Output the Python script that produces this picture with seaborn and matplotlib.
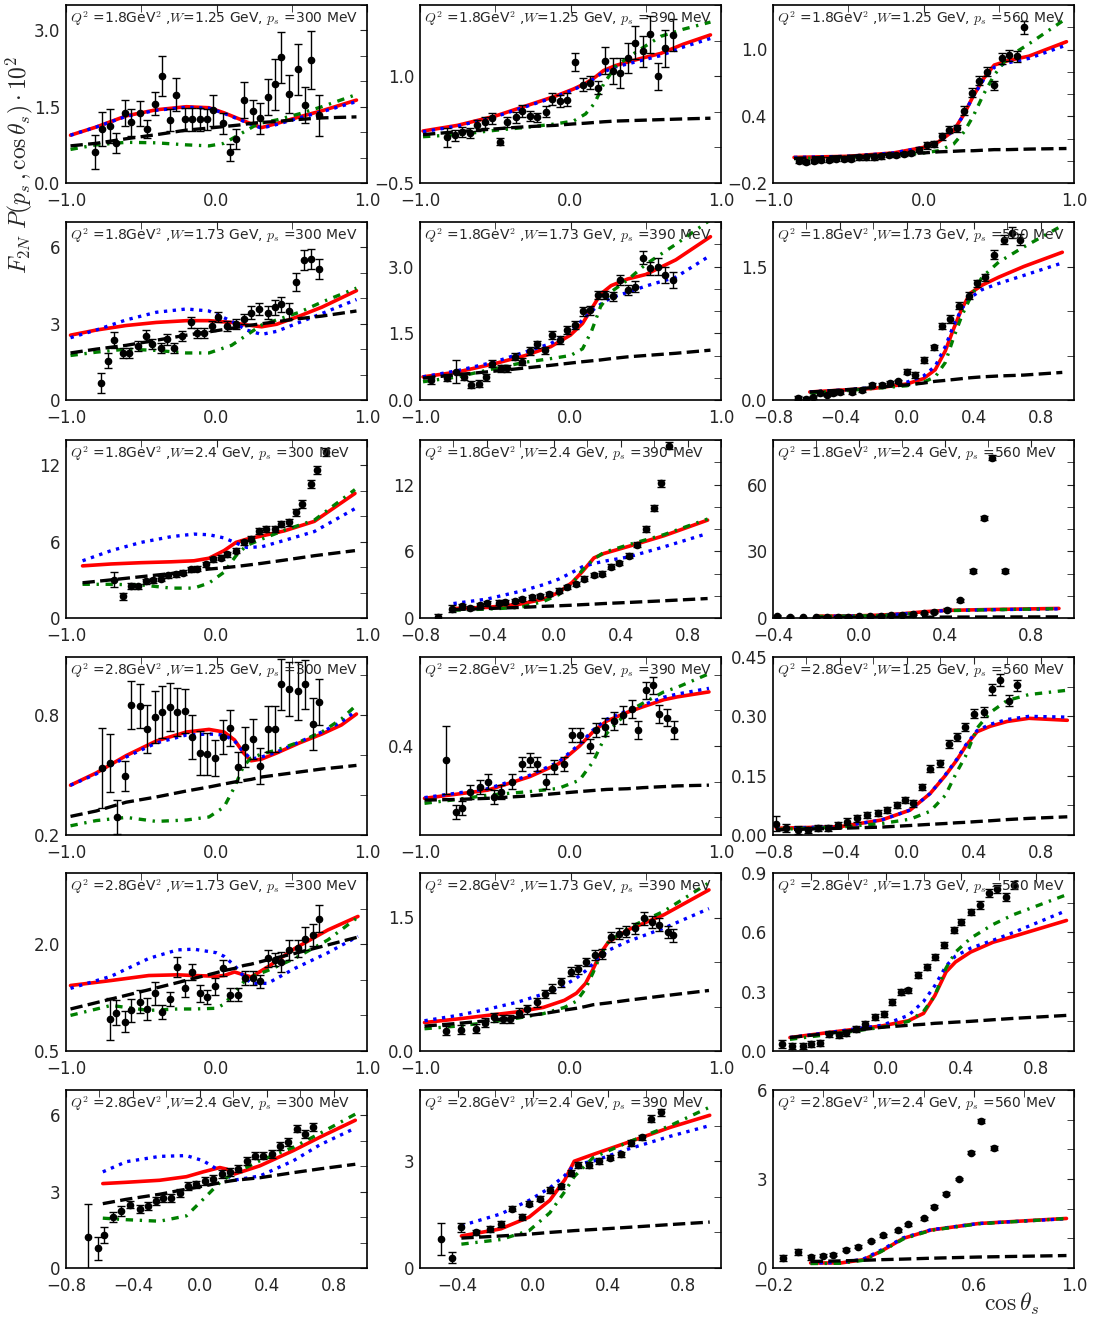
import matplotlib
matplotlib.use("Agg")
import matplotlib.pyplot as plt
import seaborn as sns
from matplotlib.ticker import MultipleLocator

# ---------------- data: row 1 (Q2=1.8, W=1.25) ----------------
p11_x = [-0.81, -0.76, -0.71, -0.67, -0.61, -0.57, -0.51, -0.46, -0.41, -0.36, -0.31, -0.27, -0.21, -0.16, -0.11, -0.06,
         -0.02, 0.04, 0.09, 0.13, 0.18, 0.24, 0.29, 0.34, 0.39, 0.43, 0.48, 0.54, 0.59, 0.63, 0.68]
p11_y = [0.61, 1.06, 1.12, 0.79, 1.38, 1.19, 1.37, 1.06, 1.56, 2.10, 1.24, 1.74, 1.25, 1.25, 1.25, 1.25,
         1.43, 1.17, 0.60, 0.86, 1.63, 1.41, 1.27, 1.69, 1.94, 2.47, 1.75, 2.24, 1.53, 2.42, 1.33]
p11_e = [0.34, 0.33, 0.34, 0.20, 0.26, 0.26, 0.25, 0.18, 0.23, 0.39, 0.21, 0.32, 0.22, 0.23, 0.22, 0.21,
         0.31, 0.20, 0.16, 0.20, 0.35, 0.23, 0.31, 0.36, 0.50, 0.50, 0.37, 0.50, 0.35, 0.57, 0.40]
p11_cx = [-0.97, -0.8, -0.6, -0.4, -0.2, -0.05, 0.05, 0.15, 0.25, 0.3, 0.4, 0.55, 0.7, 0.93]
p11_red = [0.94, 1.10, 1.32, 1.44, 1.50, 1.48, 1.38, 1.26, 1.14, 1.09, 1.17, 1.30, 1.42, 1.63]
p11_blue = [0.94, 1.10, 1.31, 1.43, 1.49, 1.47, 1.37, 1.25, 1.13, 1.08, 1.15, 1.28, 1.40, 1.60]
p11_green = [0.66, 0.75, 0.80, 0.79, 0.75, 0.73, 0.78, 0.95, 1.12, 1.18, 1.24, 1.36, 1.50, 1.74]
p11_black = [0.73, 0.78, 0.87, 0.95, 1.04, 1.08, 1.11, 1.14, 1.18, 1.19, 1.21, 1.25, 1.28, 1.30]

p12_x = [-0.82, -0.77, -0.72, -0.67, -0.62, -0.57, -0.52, -0.47, -0.42, -0.36, -0.32, -0.27, -0.22, -0.16, -0.12, -0.07,
         -0.02, 0.03, 0.08, 0.13, 0.18, 0.23, 0.28, 0.33, 0.38, 0.43, 0.48, 0.53, 0.58, 0.63, 0.68]
p12_y = [0.14, 0.17, 0.21, 0.20, 0.31, 0.35, 0.41, 0.08, 0.35, 0.42, 0.51, 0.44, 0.42, 0.50, 0.68, 0.65,
         0.67, 1.20, 0.88, 0.91, 0.84, 1.22, 1.07, 1.05, 1.26, 1.47, 1.35, 1.59, 1.00, 1.39, 1.58]
p12_e = [0.13, 0.08, 0.07, 0.07, 0.08, 0.08, 0.08, 0.05, 0.07, 0.08, 0.08, 0.07, 0.07, 0.08, 0.09, 0.08,
         0.09, 0.12, 0.09, 0.09, 0.09, 0.19, 0.18, 0.21, 0.21, 0.23, 0.22, 0.26, 0.19, 0.26, 0.23]
p12_cx = [-0.98, -0.75, -0.5, -0.3, -0.1, 0.02, 0.1, 0.16, 0.22, 0.3, 0.45, 0.6, 0.75, 0.93]
p12_red = [0.23, 0.31, 0.44, 0.58, 0.72, 0.82, 0.90, 0.98, 1.08, 1.15, 1.24, 1.32, 1.45, 1.58]
p12_blue = [0.22, 0.30, 0.43, 0.57, 0.71, 0.81, 0.89, 0.97, 1.06, 1.13, 1.21, 1.29, 1.41, 1.53]
p12_green = [0.15, 0.18, 0.24, 0.28, 0.33, 0.37, 0.47, 0.62, 0.89, 1.14, 1.36, 1.56, 1.66, 1.76]
p12_black = [0.18, 0.22, 0.26, 0.29, 0.31, 0.33, 0.34, 0.35, 0.36, 0.37, 0.38, 0.39, 0.40, 0.41]

p13_x = [-0.83, -0.78, -0.73, -0.68, -0.63, -0.58, -0.53, -0.48, -0.43, -0.38, -0.33, -0.28, -0.23, -0.18, -0.13, -0.08,
         -0.03, 0.02, 0.07, 0.12, 0.17, 0.22, 0.27, 0.32, 0.37, 0.42, 0.47, 0.52, 0.57, 0.62, 0.67]
p13_y = [0.00, -0.01, 0.00, 0.01, 0.01, 0.02, 0.02, 0.02, 0.03, 0.03, 0.03, 0.04, 0.05, 0.05, 0.06, 0.07,
         0.10, 0.14, 0.15, 0.22, 0.28, 0.29, 0.45, 0.61, 0.72, 0.80, 0.68, 0.92, 0.95, 0.94, 1.20]
p13_e = [0.02, 0.02, 0.02, 0.02, 0.02, 0.02, 0.02, 0.02, 0.02, 0.02, 0.02, 0.02, 0.02, 0.02, 0.02, 0.02,
         0.02, 0.03, 0.03, 0.03, 0.03, 0.03, 0.04, 0.04, 0.04, 0.04, 0.04, 0.05, 0.05, 0.05, 0.06]
p13_cx = [-0.86, -0.5, -0.2, 0.0, 0.1, 0.2, 0.27, 0.33, 0.4, 0.47, 0.56, 0.7, 0.95]
p13_red = [0.03, 0.04, 0.07, 0.12, 0.17, 0.27, 0.42, 0.58, 0.74, 0.86, 0.90, 0.94, 1.07]
p13_blue = [0.03, 0.04, 0.07, 0.12, 0.17, 0.27, 0.42, 0.58, 0.73, 0.84, 0.88, 0.92, 1.04]
p13_green = [0.02, 0.03, 0.05, 0.07, 0.09, 0.15, 0.26, 0.40, 0.60, 0.77, 0.93, 1.05, 1.28]
p13_black = [0.02, 0.04, 0.06, 0.07, 0.08, 0.085, 0.09, 0.09, 0.095, 0.10, 0.10, 0.105, 0.11]

# ---------------- row 2 (Q2=1.8, W=1.73) ----------------
p21_x = [-0.77, -0.72, -0.68, -0.62, -0.58, -0.52, -0.47, -0.43, -0.37, -0.33, -0.28, -0.23, -0.17, -0.13, -0.08,
         -0.03, 0.01, 0.07, 0.13, 0.18, 0.23, 0.28, 0.34, 0.39, 0.43, 0.48, 0.53, 0.58, 0.63, 0.68]
p21_y = [0.67, 1.55, 2.36, 1.85, 1.85, 2.12, 2.52, 2.19, 2.05, 2.38, 2.05, 2.52, 3.05, 2.62, 2.65,
         2.91, 3.25, 2.91, 2.98, 3.18, 3.44, 3.58, 3.44, 3.64, 3.77, 3.50, 4.65, 5.50, 5.55, 5.15]
p21_e = [0.40, 0.30, 0.30, 0.20, 0.20, 0.20, 0.25, 0.20, 0.20, 0.20, 0.20, 0.20, 0.20, 0.20, 0.20,
         0.20, 0.20, 0.20, 0.20, 0.20, 0.25, 0.25, 0.25, 0.30, 0.30, 0.30, 0.35, 0.40, 0.40, 0.40]
p21_cx = [-0.97, -0.8, -0.6, -0.4, -0.2, -0.05, 0.1, 0.2, 0.3, 0.4, 0.55, 0.7, 0.93]
p21_red = [2.55, 2.75, 2.93, 3.05, 3.12, 3.12, 3.05, 2.95, 2.88, 2.98, 3.30, 3.65, 4.30]
p21_blue = [2.45, 2.75, 3.15, 3.45, 3.58, 3.50, 3.10, 2.75, 2.58, 2.70, 3.05, 3.40, 3.95]
p21_green = [1.75, 1.88, 2.00, 1.95, 1.85, 1.85, 2.15, 2.55, 2.95, 3.15, 3.45, 3.85, 4.40]
p21_black = [1.85, 2.00, 2.15, 2.35, 2.55, 2.68, 2.82, 2.92, 3.00, 3.08, 3.20, 3.30, 3.50]

p22_x = [-0.93, -0.82, -0.76, -0.71, -0.66, -0.61, -0.56, -0.52, -0.46, -0.42, -0.37, -0.32, -0.27, -0.22, -0.17, -0.12,
         -0.07, -0.02, 0.03, 0.08, 0.13, 0.18, 0.23, 0.28, 0.33, 0.38, 0.43, 0.48, 0.53, 0.58, 0.63, 0.68]
p22_y = [0.45, 0.50, 0.64, 0.52, 0.34, 0.37, 0.51, 0.82, 0.71, 0.71, 0.97, 0.86, 1.10, 1.25, 1.12, 1.45,
         1.35, 1.57, 1.69, 1.99, 2.02, 2.36, 2.36, 2.33, 2.70, 2.47, 2.55, 3.20, 2.96, 3.00, 2.81, 2.70]
p22_e = [0.08, 0.08, 0.25, 0.08, 0.08, 0.08, 0.08, 0.08, 0.08, 0.08, 0.08, 0.08, 0.08, 0.08, 0.08, 0.09,
         0.09, 0.09, 0.09, 0.10, 0.10, 0.10, 0.10, 0.10, 0.12, 0.12, 0.12, 0.15, 0.15, 0.18, 0.18, 0.18]
p22_cx = [-0.98, -0.75, -0.5, -0.3, -0.13, 0.0, 0.08, 0.14, 0.2, 0.27, 0.38, 0.5, 0.7, 0.93]
p22_red = [0.52, 0.63, 0.82, 1.00, 1.20, 1.46, 1.72, 2.05, 2.38, 2.57, 2.72, 2.82, 3.15, 3.67]
p22_blue = [0.52, 0.66, 0.86, 1.08, 1.27, 1.54, 1.80, 2.00, 2.15, 2.30, 2.42, 2.56, 2.76, 3.25]
p22_green = [0.41, 0.52, 0.71, 0.85, 0.93, 1.00, 1.15, 1.55, 2.10, 2.43, 2.70, 3.05, 3.50, 4.05]
p22_black = [0.49, 0.57, 0.65, 0.72, 0.78, 0.83, 0.86, 0.88, 0.90, 0.93, 0.97, 1.00, 1.05, 1.12]

p23_x = [-0.65, -0.60, -0.56, -0.52, -0.48, -0.44, -0.40, -0.33, -0.27, -0.21, -0.15, -0.10, -0.05, 0.00,
         0.05, 0.10, 0.16, 0.21, 0.26, 0.31, 0.37, 0.42, 0.47, 0.52, 0.58, 0.63, 0.68]
p23_y = [0.02, 0.01, 0.03, 0.08, 0.06, 0.08, 0.09, 0.09, 0.11, 0.17, 0.17, 0.19, 0.21, 0.32,
         0.28, 0.45, 0.59, 0.83, 0.91, 1.06, 1.17, 1.31, 1.38, 1.63, 1.80, 1.88, 1.80]
p23_e = [0.02, 0.02, 0.02, 0.02, 0.02, 0.02, 0.02, 0.02, 0.02, 0.02, 0.02, 0.02, 0.02, 0.03,
         0.03, 0.03, 0.03, 0.03, 0.04, 0.04, 0.04, 0.04, 0.04, 0.05, 0.05, 0.06, 0.06]
p23_cx = [-0.58, -0.4, -0.2, 0.0, 0.1, 0.17, 0.23, 0.28, 0.33, 0.38, 0.45, 0.55, 0.7, 0.93]
p23_red = [0.09, 0.11, 0.13, 0.18, 0.24, 0.34, 0.55, 0.80, 1.03, 1.20, 1.29, 1.38, 1.50, 1.66]
p23_blue = [0.09, 0.11, 0.14, 0.20, 0.27, 0.38, 0.60, 0.84, 1.03, 1.15, 1.24, 1.31, 1.40, 1.54]
p23_green = [0.08, 0.10, 0.13, 0.16, 0.20, 0.26, 0.42, 0.70, 0.95, 1.15, 1.38, 1.55, 1.72, 1.96]
p23_black = [0.09, 0.11, 0.14, 0.17, 0.19, 0.21, 0.22, 0.23, 0.24, 0.25, 0.26, 0.27, 0.28, 0.31]

# ---------------- row 3 (Q2=1.8, W=2.4) ----------------
p31_x = [-0.68, -0.62, -0.57, -0.52, -0.47, -0.42, -0.37, -0.32, -0.27, -0.22, -0.17, -0.13, -0.07, -0.02, 0.03,
         0.07, 0.13, 0.18, 0.23, 0.28, 0.33, 0.39, 0.43, 0.48, 0.53, 0.57, 0.63, 0.67, 0.73]
p31_y = [3.00, 1.70, 2.50, 2.50, 2.90, 2.98, 3.08, 3.35, 3.43, 3.56, 3.83, 3.88, 4.22, 4.62, 4.75,
         5.01, 5.28, 5.94, 6.25, 6.86, 6.99, 6.99, 7.39, 7.52, 8.31, 8.97, 10.55, 11.66, 13.06]
p31_e = [0.60, 0.30, 0.25, 0.20, 0.20, 0.20, 0.20, 0.20, 0.20, 0.20, 0.20, 0.20, 0.20, 0.20, 0.20,
         0.20, 0.20, 0.20, 0.20, 0.25, 0.25, 0.25, 0.25, 0.25, 0.25, 0.30, 0.30, 0.30, 0.30]
p31_cx = [-0.89, -0.7, -0.5, -0.3, -0.15, -0.05, 0.05, 0.13, 0.2, 0.3, 0.45, 0.65, 0.92]
p31_red = [4.10, 4.25, 4.35, 4.42, 4.50, 4.70, 5.30, 5.95, 6.20, 6.45, 6.85, 7.60, 9.80]
p31_blue = [4.50, 5.30, 5.95, 6.40, 6.60, 6.55, 6.30, 5.90, 5.55, 5.60, 6.10, 6.80, 8.60]
p31_green = [2.65, 2.65, 2.60, 2.35, 2.35, 2.75, 3.60, 4.90, 5.70, 6.20, 6.90, 7.70, 10.10]
p31_black = [2.77, 3.00, 3.25, 3.50, 3.70, 3.85, 3.95, 4.05, 4.15, 4.30, 4.55, 4.90, 5.30]

p32_x = [-0.69, -0.61, -0.55, -0.50, -0.44, -0.40, -0.33, -0.29, -0.23, -0.19, -0.13, -0.08, -0.03, 0.03,
         0.08, 0.13, 0.18, 0.24, 0.29, 0.34, 0.39, 0.45, 0.50, 0.55, 0.60, 0.64, 0.69]
p32_y = [0.10, 0.83, 1.08, 0.92, 1.14, 1.32, 1.38, 1.45, 1.54, 1.69, 1.85, 2.00, 2.15, 2.46,
         2.77, 3.08, 3.54, 3.85, 4.00, 4.62, 4.92, 5.60, 6.60, 8.00, 9.90, 12.10, 15.50]
p32_e = [0.30, 0.30, 0.20, 0.20, 0.20, 0.20, 0.20, 0.20, 0.20, 0.20, 0.20, 0.20, 0.20, 0.20,
         0.20, 0.20, 0.20, 0.20, 0.20, 0.20, 0.20, 0.25, 0.25, 0.25, 0.25, 0.30, 0.30]
p32_cx = [-0.6, -0.4, -0.2, -0.06, 0.03, 0.11, 0.17, 0.24, 0.3, 0.45, 0.66, 0.92]
p32_red = [0.85, 0.95, 1.25, 1.70, 2.30, 3.20, 4.15, 5.40, 5.80, 6.45, 7.40, 8.80]
p32_blue = [1.30, 1.70, 2.40, 3.00, 3.50, 4.10, 4.60, 4.90, 5.10, 5.50, 6.40, 7.60]
p32_green = [0.70, 0.80, 0.95, 1.50, 2.10, 3.10, 4.30, 5.30, 5.90, 6.60, 7.50, 8.90]
p32_black = [0.75, 0.85, 0.95, 1.05, 1.10, 1.15, 1.20, 1.25, 1.30, 1.40, 1.55, 1.75]

p33_x = [-0.38, -0.32, -0.26, -0.20, -0.15, -0.10, -0.05, 0.00, 0.05, 0.10, 0.15, 0.20, 0.25, 0.30, 0.35,
         0.41, 0.47, 0.53, 0.58, 0.62, 0.68]
p33_y = [1.0, 0.5, 0.3, 0.3, 0.4, 0.6, 0.5, 0.8, 0.9, 1.0, 1.3, 1.5, 1.8, 2.2, 2.6,
         3.8, 8.0, 21.0, 45.0, 72.0, 21.0]
p33_e = [0.3, 0.3, 0.3, 0.3, 0.3, 0.3, 0.3, 0.3, 0.3, 0.3, 0.3, 0.3, 0.3, 0.3, 0.4,
         0.5, 0.6, 0.8, 1.0, 1.2, 0.8]
p33_cx = [-0.2, 0.0, 0.1, 0.2, 0.3, 0.4, 0.6, 0.93]
p33_red = [0.8, 1.0, 1.3, 1.9, 2.8, 3.4, 3.8, 4.3]
p33_blue = [0.7, 0.9, 1.2, 1.8, 2.7, 3.3, 3.7, 4.1]
p33_green = [0.7, 0.9, 1.1, 1.6, 2.6, 3.3, 3.7, 4.2]
p33_black = [0.2, 0.25, 0.3, 0.3, 0.35, 0.4, 0.45, 0.5]

# ---------------- row 4 (Q2=2.8, W=1.25) ----------------
p41_x = [-0.76, -0.71, -0.66, -0.61, -0.57, -0.51, -0.46, -0.41, -0.36, -0.31, -0.26, -0.21, -0.16, -0.11, -0.06,
         -0.01, 0.04, 0.09, 0.14, 0.19, 0.24, 0.29, 0.34, 0.39, 0.43, 0.48, 0.54, 0.59, 0.64, 0.68]
p41_y = [0.534, 0.559, 0.290, 0.495, 0.850, 0.847, 0.732, 0.790, 0.817, 0.839, 0.817, 0.818, 0.690, 0.610, 0.607,
         0.585, 0.690, 0.737, 0.542, 0.640, 0.678, 0.546, 0.729, 0.729, 0.953, 0.929, 0.919, 0.953, 0.754, 0.864]
p41_e = [0.200, 0.144, 0.085, 0.075, 0.120, 0.110, 0.120, 0.130, 0.130, 0.120, 0.120, 0.110, 0.110, 0.110, 0.105,
         0.090, 0.085, 0.090, 0.075, 0.100, 0.100, 0.090, 0.115, 0.115, 0.127, 0.134, 0.144, 0.123, 0.130, 0.115]
p41_cx = [-0.97, -0.8, -0.6, -0.4, -0.2, -0.05, 0.05, 0.12, 0.18, 0.23, 0.3, 0.4, 0.55, 0.7, 0.83, 0.93]
p41_red = [0.449, 0.510, 0.597, 0.670, 0.715, 0.728, 0.715, 0.675, 0.610, 0.571, 0.580, 0.610, 0.660, 0.705, 0.750, 0.805]
p41_blue = [0.449, 0.505, 0.590, 0.660, 0.700, 0.705, 0.700, 0.670, 0.615, 0.580, 0.590, 0.615, 0.665, 0.715, 0.765, 0.822]
p41_green = [0.246, 0.272, 0.288, 0.268, 0.275, 0.290, 0.340, 0.440, 0.545, 0.585, 0.605, 0.625, 0.665, 0.715, 0.780, 0.850]
p41_black = [0.293, 0.320, 0.364, 0.390, 0.420, 0.440, 0.455, 0.465, 0.472, 0.478, 0.490, 0.500, 0.515, 0.530, 0.540, 0.548]

p42_x = [-0.83, -0.76, -0.72, -0.67, -0.60, -0.55, -0.51, -0.46, -0.39, -0.32, -0.27, -0.22, -0.16, -0.11,
         -0.04, 0.01, 0.06, 0.13, 0.17, 0.23, 0.29, 0.35, 0.41, 0.45, 0.50, 0.55, 0.59, 0.64, 0.69]
p42_y = [0.360, 0.215, 0.225, 0.270, 0.285, 0.300, 0.257, 0.270, 0.300, 0.350, 0.360, 0.350, 0.300, 0.340,
         0.350, 0.430, 0.430, 0.400, 0.444, 0.454, 0.470, 0.486, 0.505, 0.444, 0.556, 0.570, 0.490, 0.480, 0.444]
p42_e = [0.095, 0.020, 0.020, 0.020, 0.020, 0.020, 0.020, 0.020, 0.020, 0.020, 0.020, 0.020, 0.020, 0.020,
         0.020, 0.020, 0.020, 0.020, 0.020, 0.025, 0.025, 0.025, 0.025, 0.025, 0.025, 0.025, 0.025, 0.025, 0.025]
p42_cx = [-0.97, -0.75, -0.55, -0.27, -0.08, 0.06, 0.15, 0.24, 0.38, 0.48, 0.62, 0.71, 0.92]
p42_red = [0.253, 0.265, 0.276, 0.314, 0.350, 0.400, 0.440, 0.470, 0.495, 0.510, 0.530, 0.538, 0.552]
p42_blue = [0.255, 0.268, 0.280, 0.318, 0.355, 0.405, 0.445, 0.475, 0.500, 0.515, 0.537, 0.546, 0.562]
p42_green = [0.239, 0.250, 0.262, 0.272, 0.281, 0.304, 0.356, 0.435, 0.496, 0.520, 0.552, 0.565, 0.603]
p42_black = [0.248, 0.250, 0.253, 0.260, 0.267, 0.272, 0.275, 0.278, 0.280, 0.283, 0.286, 0.288, 0.290]

p43_x = [-0.78, -0.72, -0.65, -0.59, -0.53, -0.47, -0.41, -0.36, -0.30, -0.24, -0.17, -0.12, -0.06, -0.01,
         0.04, 0.09, 0.14, 0.20, 0.25, 0.30, 0.35, 0.40, 0.46, 0.51, 0.56, 0.61, 0.66]
p43_y = [0.029, 0.017, 0.013, 0.013, 0.017, 0.017, 0.025, 0.034, 0.042, 0.050, 0.055, 0.063, 0.076, 0.088,
         0.080, 0.122, 0.168, 0.181, 0.231, 0.248, 0.273, 0.307, 0.311, 0.368, 0.391, 0.340, 0.378]
p43_e = [0.020, 0.010, 0.010, 0.008, 0.008, 0.008, 0.008, 0.008, 0.008, 0.008, 0.008, 0.008, 0.008, 0.008,
         0.008, 0.008, 0.008, 0.008, 0.010, 0.010, 0.010, 0.012, 0.012, 0.015, 0.015, 0.015, 0.015]
p43_cx = [-0.78, -0.4, -0.15, 0.02, 0.14, 0.23, 0.3, 0.35, 0.42, 0.5, 0.6, 0.73, 0.96]
p43_red = [0.017, 0.021, 0.038, 0.063, 0.105, 0.150, 0.190, 0.223, 0.261, 0.275, 0.287, 0.295, 0.290]
p43_blue = [0.017, 0.021, 0.038, 0.063, 0.105, 0.152, 0.192, 0.226, 0.264, 0.280, 0.292, 0.300, 0.298]
p43_green = [0.014, 0.020, 0.029, 0.040, 0.060, 0.100, 0.160, 0.198, 0.270, 0.310, 0.340, 0.355, 0.366]
p43_black = [0.013, 0.017, 0.020, 0.024, 0.027, 0.029, 0.031, 0.032, 0.034, 0.036, 0.039, 0.042, 0.046]

# ---------------- row 5 (Q2=2.8, W=1.73) ----------------
p51_x = [-0.71, -0.67, -0.61, -0.57, -0.51, -0.46, -0.41, -0.36, -0.31, -0.26, -0.21, -0.16, -0.11, -0.06, -0.01,
         0.04, 0.09, 0.14, 0.19, 0.24, 0.29, 0.34, 0.39, 0.43, 0.48, 0.54, 0.59, 0.64, 0.68]
p51_y = [0.95, 1.04, 0.91, 1.07, 1.19, 1.09, 1.31, 1.05, 1.23, 1.68, 1.38, 1.61, 1.31, 1.26, 1.41,
         1.67, 1.29, 1.29, 1.53, 1.53, 1.48, 1.80, 1.78, 1.75, 1.92, 1.94, 2.08, 2.13, 2.36]
p51_e = [0.29, 0.17, 0.15, 0.16, 0.16, 0.16, 0.16, 0.10, 0.10, 0.14, 0.12, 0.11, 0.12, 0.10, 0.12,
         0.11, 0.09, 0.09, 0.10, 0.10, 0.09, 0.12, 0.09, 0.14, 0.14, 0.12, 0.16, 0.15, 0.19]
p51_cx = [-0.97, -0.7, -0.45, -0.26, -0.15, 0.0, 0.05, 0.12, 0.18, 0.23, 0.34, 0.52, 0.74, 0.94]
p51_red = [1.42, 1.49, 1.56, 1.57, 1.56, 1.55, 1.56, 1.61, 1.57, 1.54, 1.68, 1.94, 2.20, 2.39]
p51_blue = [1.38, 1.55, 1.80, 1.92, 1.93, 1.88, 1.83, 1.70, 1.55, 1.45, 1.45, 1.66, 1.88, 2.11]
p51_green = [1.00, 1.14, 1.07, 1.09, 1.09, 1.10, 1.16, 1.32, 1.47, 1.54, 1.63, 1.80, 2.06, 2.38]
p51_black = [1.09, 1.23, 1.36, 1.46, 1.52, 1.60, 1.63, 1.66, 1.70, 1.72, 1.78, 1.87, 1.99, 2.10]

p52_x = [-0.83, -0.73, -0.63, -0.57, -0.51, -0.45, -0.40, -0.34, -0.29, -0.22, -0.17, -0.12, -0.06, 0.00,
         0.05, 0.10, 0.16, 0.21, 0.27, 0.32, 0.37, 0.43, 0.49, 0.54, 0.59, 0.65, 0.68]
p52_y = [0.23, 0.24, 0.25, 0.32, 0.38, 0.36, 0.36, 0.43, 0.47, 0.55, 0.64, 0.70, 0.77, 0.89,
         0.92, 1.00, 1.08, 1.09, 1.28, 1.32, 1.34, 1.38, 1.49, 1.45, 1.42, 1.34, 1.30]
p52_e = [0.05, 0.05, 0.05, 0.05, 0.05, 0.05, 0.05, 0.05, 0.05, 0.05, 0.05, 0.05, 0.05, 0.05,
         0.05, 0.05, 0.06, 0.06, 0.06, 0.06, 0.06, 0.06, 0.07, 0.07, 0.07, 0.07, 0.07]
p52_cx = [-0.97, -0.75, -0.55, -0.35, -0.18, -0.04, 0.04, 0.1, 0.15, 0.2, 0.25, 0.38, 0.62, 0.92]
p52_red = [0.32, 0.36, 0.40, 0.44, 0.49, 0.57, 0.65, 0.76, 0.92, 1.10, 1.22, 1.36, 1.53, 1.81]
p52_blue = [0.34, 0.40, 0.47, 0.55, 0.64, 0.74, 0.82, 0.90, 0.98, 1.06, 1.13, 1.23, 1.38, 1.60]
p52_green = [0.25, 0.28, 0.32, 0.37, 0.42, 0.49, 0.56, 0.70, 0.88, 1.08, 1.22, 1.38, 1.57, 1.89]
p52_black = [0.28, 0.31, 0.34, 0.38, 0.42, 0.46, 0.48, 0.50, 0.52, 0.53, 0.54, 0.57, 0.62, 0.68]

p53_x = [-0.55, -0.50, -0.44, -0.40, -0.35, -0.30, -0.25, -0.21, -0.16, -0.11, -0.06, -0.01, 0.03, 0.08,
         0.12, 0.17, 0.22, 0.26, 0.31, 0.36, 0.40, 0.45, 0.50, 0.55, 0.59, 0.64, 0.68]
p53_y = [0.034, 0.025, 0.025, 0.034, 0.042, 0.085, 0.080, 0.093, 0.110, 0.136, 0.170, 0.187, 0.246, 0.297,
         0.306, 0.382, 0.424, 0.475, 0.535, 0.611, 0.654, 0.705, 0.739, 0.800, 0.820, 0.780, 0.840]
p53_e = [0.020, 0.015, 0.015, 0.015, 0.015, 0.015, 0.015, 0.015, 0.015, 0.015, 0.015, 0.015, 0.015, 0.015,
         0.015, 0.015, 0.015, 0.015, 0.015, 0.015, 0.015, 0.015, 0.020, 0.020, 0.020, 0.020, 0.020]
p53_cx = [-0.51, -0.25, -0.02, 0.12, 0.2, 0.26, 0.32, 0.37, 0.45, 0.57, 0.68, 0.96]
p53_red = [0.068, 0.100, 0.127, 0.153, 0.190, 0.280, 0.400, 0.450, 0.500, 0.550, 0.580, 0.660]
p53_blue = [0.068, 0.100, 0.130, 0.180, 0.250, 0.330, 0.430, 0.480, 0.520, 0.560, 0.600, 0.710]
p53_green = [0.059, 0.090, 0.120, 0.150, 0.200, 0.280, 0.420, 0.500, 0.570, 0.640, 0.690, 0.790]
p53_black = [0.068, 0.095, 0.120, 0.130, 0.135, 0.140, 0.143, 0.146, 0.150, 0.158, 0.165, 0.180]

# ---------------- row 6 (Q2=2.8, W=2.4) ----------------
p61_x = [-0.67, -0.61, -0.57, -0.52, -0.47, -0.42, -0.36, -0.31, -0.26, -0.22, -0.17, -0.12, -0.07, -0.02,
         0.03, 0.08, 0.13, 0.18, 0.23, 0.28, 0.33, 0.38, 0.43, 0.48, 0.53, 0.58, 0.63, 0.68]
p61_y = [1.23, 0.77, 1.30, 2.00, 2.23, 2.49, 2.32, 2.43, 2.63, 2.76, 2.76, 2.96, 3.22, 3.29,
         3.42, 3.51, 3.69, 3.78, 3.91, 4.22, 4.42, 4.42, 4.48, 4.81, 4.95, 5.48, 5.28, 5.54]
p61_e = [1.30, 0.45, 0.33, 0.20, 0.20, 0.15, 0.15, 0.15, 0.15, 0.15, 0.15, 0.15, 0.15, 0.15,
         0.15, 0.15, 0.15, 0.15, 0.15, 0.15, 0.15, 0.15, 0.15, 0.15, 0.15, 0.15, 0.15, 0.15]
p61_cx = [-0.58, -0.44, -0.24, -0.08, 0.02, 0.12, 0.16, 0.21, 0.36, 0.56, 0.72, 0.93]
p61_red = [3.32, 3.37, 3.45, 3.59, 3.78, 3.95, 3.89, 3.70, 4.02, 4.62, 5.15, 5.81]
p61_blue = [3.78, 4.18, 4.39, 4.42, 4.22, 3.82, 3.65, 3.46, 3.62, 4.22, 4.85, 5.50]
p61_green = [1.96, 1.90, 1.84, 2.05, 2.70, 3.36, 3.55, 3.73, 4.22, 4.75, 5.30, 6.05]
p61_black = [2.53, 2.70, 2.90, 3.10, 3.22, 3.35, 3.40, 3.45, 3.55, 3.75, 3.90, 4.08]

p62_x = [-0.49, -0.43, -0.38, -0.30, -0.23, -0.17, -0.11, -0.06, -0.02, 0.04, 0.09, 0.15, 0.20, 0.24,
         0.30, 0.35, 0.41, 0.47, 0.52, 0.58, 0.63, 0.68]
p62_y = [0.81, 0.29, 1.14, 1.00, 1.10, 1.24, 1.67, 1.43, 1.81, 1.95, 2.19, 2.29, 2.67, 2.90,
         2.90, 3.00, 3.10, 3.19, 3.52, 3.67, 4.19, 4.38]
p62_e = [0.45, 0.15, 0.12, 0.08, 0.08, 0.08, 0.08, 0.08, 0.08, 0.08, 0.08, 0.08, 0.08, 0.08,
         0.08, 0.08, 0.08, 0.08, 0.08, 0.08, 0.10, 0.10]
p62_cx = [-0.38, -0.17, -0.02, 0.09, 0.17, 0.22, 0.32, 0.5, 0.73, 0.94]
p62_red = [0.90, 1.10, 1.43, 1.90, 2.48, 3.00, 3.19, 3.52, 3.95, 4.29]
p62_blue = [1.19, 1.52, 1.90, 2.25, 2.60, 2.90, 3.00, 3.33, 3.70, 4.00]
p62_green = [0.67, 0.80, 1.05, 1.55, 2.15, 2.57, 3.10, 3.52, 4.00, 4.52]
p62_black = [0.84, 0.90, 0.95, 1.00, 1.03, 1.05, 1.08, 1.14, 1.22, 1.29]

p63_x = [-0.16, -0.10, -0.05, 0.00, 0.04, 0.09, 0.14, 0.19, 0.24, 0.30, 0.34, 0.40, 0.44, 0.49, 0.54, 0.59, 0.63, 0.68]
p63_y = [0.33, 0.53, 0.36, 0.42, 0.44, 0.61, 0.72, 0.91, 1.11, 1.28, 1.47, 1.67, 2.06, 2.50, 3.00, 3.89, 4.95, 4.05]
p63_e = [0.10, 0.10, 0.08, 0.06, 0.05, 0.05, 0.05, 0.05, 0.05, 0.05, 0.05, 0.05, 0.05, 0.05, 0.05, 0.06, 0.06, 0.06]
p63_cx = [-0.05, 0.07, 0.16, 0.23, 0.32, 0.43, 0.62, 0.97]
p63_red = [0.17, 0.17, 0.28, 0.56, 1.00, 1.28, 1.50, 1.67]
p63_blue = [0.17, 0.18, 0.30, 0.60, 1.02, 1.29, 1.50, 1.66]
p63_green = [0.15, 0.16, 0.26, 0.55, 0.98, 1.27, 1.49, 1.67]
p63_black = [0.22, 0.24, 0.26, 0.28, 0.30, 0.33, 0.37, 0.42]

q2_values = ["1.8", "1.8", "1.8", "2.8", "2.8", "2.8"]
w_values = ["1.25", "1.73", "2.4", "1.25", "1.73", "2.4"]
ps_values = ["300", "390", "560"]

panels = [
    [(p11_x, p11_y, p11_e, p11_cx, p11_red, p11_blue, p11_green, p11_black),
     (p12_x, p12_y, p12_e, p12_cx, p12_red, p12_blue, p12_green, p12_black),
     (p13_x, p13_y, p13_e, p13_cx, p13_red, p13_blue, p13_green, p13_black)],
    [(p21_x, p21_y, p21_e, p21_cx, p21_red, p21_blue, p21_green, p21_black),
     (p22_x, p22_y, p22_e, p22_cx, p22_red, p22_blue, p22_green, p22_black),
     (p23_x, p23_y, p23_e, p23_cx, p23_red, p23_blue, p23_green, p23_black)],
    [(p31_x, p31_y, p31_e, p31_cx, p31_red, p31_blue, p31_green, p31_black),
     (p32_x, p32_y, p32_e, p32_cx, p32_red, p32_blue, p32_green, p32_black),
     (p33_x, p33_y, p33_e, p33_cx, p33_red, p33_blue, p33_green, p33_black)],
    [(p41_x, p41_y, p41_e, p41_cx, p41_red, p41_blue, p41_green, p41_black),
     (p42_x, p42_y, p42_e, p42_cx, p42_red, p42_blue, p42_green, p42_black),
     (p43_x, p43_y, p43_e, p43_cx, p43_red, p43_blue, p43_green, p43_black)],
    [(p51_x, p51_y, p51_e, p51_cx, p51_red, p51_blue, p51_green, p51_black),
     (p52_x, p52_y, p52_e, p52_cx, p52_red, p52_blue, p52_green, p52_black),
     (p53_x, p53_y, p53_e, p53_cx, p53_red, p53_blue, p53_green, p53_black)],
    [(p61_x, p61_y, p61_e, p61_cx, p61_red, p61_blue, p61_green, p61_black),
     (p62_x, p62_y, p62_e, p62_cx, p62_red, p62_blue, p62_green, p62_black),
     (p63_x, p63_y, p63_e, p63_cx, p63_red, p63_blue, p63_green, p63_black)],
]

# axis setup per panel: xlim, labelled x ticks, x minor step, ylim, labelled y ticks, y minor step, y format
X1 = ((-1.0, 1.0), [-1.0, 0.0, 1.0], 0.5)
X8 = ((-0.8, 1.0), [-0.8, -0.4, 0.0, 0.4, 0.8], 0.2)
X4 = ((-0.4, 1.0), [-0.4, 0.0, 0.4, 0.8], 0.2)
X6 = ((-0.6, 1.0), [-0.4, 0.0, 0.4, 0.8], 0.2)
X2 = ((-0.2, 1.0), [-0.2, 0.2, 0.6, 1.0], 0.2)
axes_setup = [
    [(X1, (0, 3.5), [0.0, 1.5, 3.0], 0.5, "%.1f"),
     (X1, (-0.5, 2.0), [-0.5, 1.0], 0.5, "%.1f"),
     (X1, (-0.2, 1.4), [-0.2, 0.4, 1.0], 0.2, "%.1f")],
    [(X1, (0, 7), [0, 3, 6], 1, "%d"),
     (X1, (0, 4), [0.0, 1.5, 3.0], 0.5, "%.1f"),
     (X8, (0, 2), [0.0, 1.5], 0.5, "%.1f")],
    [(X1, (0, 14), [0, 6, 12], 2, "%d"),
     (X8, (0, 16), [0, 6, 12], 2, "%d"),
     (X4, (0, 80), [0, 30, 60], 10, "%d")],
    [(X1, (0.2, 1.09), [0.2, 0.8], 0.2, "%.1f"),
     (X1, (0.15, 0.65), [0.4], 0.1, "%.1f"),
     (X8, (0, 0.45), [0.0, 0.15, 0.30, 0.45], 0.075, "%.2f")],
    [(X1, (0.5, 3.0), [0.5, 2.0], 0.5, "%.1f"),
     (X1, (0, 2.0), [0.0, 1.5], 0.5, "%.1f"),
     (X6, (0, 0.9), [0.0, 0.3, 0.6, 0.9], 0.15, "%.1f")],
    [(X8, (0, 7), [0, 3, 6], 1, "%d"),
     (X6, (0, 5), [0, 3], 1, "%d"),
     (X2, (0, 6), [0, 3, 6], 1, "%d")],
]

sns.set_style("white")
plt.rcParams.update({
    "font.family": "DejaVu Sans",
    "mathtext.fontset": "cm",
    "xtick.direction": "in",
    "ytick.direction": "in",
    "xtick.top": True,
    "ytick.right": True,
    "xtick.major.size": 5,
    "ytick.major.size": 5,
    "xtick.minor.size": 5,
    "ytick.minor.size": 5,
    "xtick.major.pad": 6.5,
    "ytick.major.pad": 4,
    "xtick.labelsize": 12,
    "ytick.labelsize": 12,
    "axes.edgecolor": "black",
    "axes.linewidth": 1.2,
})

W_PX, H_PX = 1094, 1322
fig = plt.figure(figsize=(W_PX / 100, H_PX / 100), dpi=100)

col_left = [66, 420, 773]
row_top = [5, 222, 440, 657, 873, 1090]
ax_w, ax_h = 301, 178

dash_dot = (0, (2.2, 2.0, 0.7, 2.0))


def lab(fmt, v):
    return (fmt % v).replace("-", "\u2212")


for r in range(6):
    for c in range(3):
        dx, dy, de, cx, red, blue, green, black = panels[r][c]
        (xlim, xt, xminor), ylim, yt, yminor, yfmt = axes_setup[r][c]
        ax = fig.add_axes([col_left[c] / W_PX, 1 - (row_top[r] + ax_h) / H_PX, ax_w / W_PX, ax_h / H_PX])

        sns.lineplot(x=cx, y=red, ax=ax, color="red", lw=2.6, estimator=None, sort=False, zorder=2)
        sns.lineplot(x=cx, y=blue, ax=ax, color="blue", lw=2.4, linestyle=":", estimator=None, sort=False, zorder=2)
        sns.lineplot(x=cx, y=green, ax=ax, color="green", lw=2.4, linestyle=dash_dot, estimator=None, sort=False,
                     zorder=2)
        sns.lineplot(x=cx, y=black, ax=ax, color="black", lw=2.4, linestyle="--", estimator=None, sort=False, zorder=2)
        ax.errorbar(dx, dy, yerr=de, fmt="o", color="black", ms=4.5, elinewidth=1.0,
                    capsize=3, capthick=1.0, zorder=3)

        ax.set_xlim(*xlim)
        ax.set_ylim(*ylim)
        ax.set_xticks(xt)
        ax.set_xticklabels([lab("%.1f", v) for v in xt])
        ax.set_yticks(yt)
        ax.set_yticklabels([lab(yfmt, v) for v in yt])
        ax.xaxis.set_minor_locator(MultipleLocator(xminor))
        ax.yaxis.set_minor_locator(MultipleLocator(yminor))
        ax.tick_params(which="both", top=True, right=True, direction="in")
        ax.set_xlabel("")
        ax.set_ylabel("")
        for s in ax.spines.values():
            s.set_visible(True)
            s.set_color("black")

        txt = (r"$Q^2$ =" + q2_values[r] + r"GeV$^2$ ,$W$=" + w_values[r] +
               r" GeV, $p_s$ =" + ps_values[c] + " MeV")
        ax.text(0.012, 0.975, txt, transform=ax.transAxes, ha="left", va="top", fontsize=10, zorder=4)

fig.text(19 / W_PX, 1 - 165 / H_PX, r"$F_{2N}\ P(p_s\,,\cos\theta_s)\cdot10^2$",
         rotation=90, ha="center", va="center", fontsize=17)
fig.text(1012 / W_PX, 1 - 1304 / H_PX, r"$\cos\theta_s$", ha="center", va="center", fontsize=17)

fig.savefig("out.png", dpi=100)
